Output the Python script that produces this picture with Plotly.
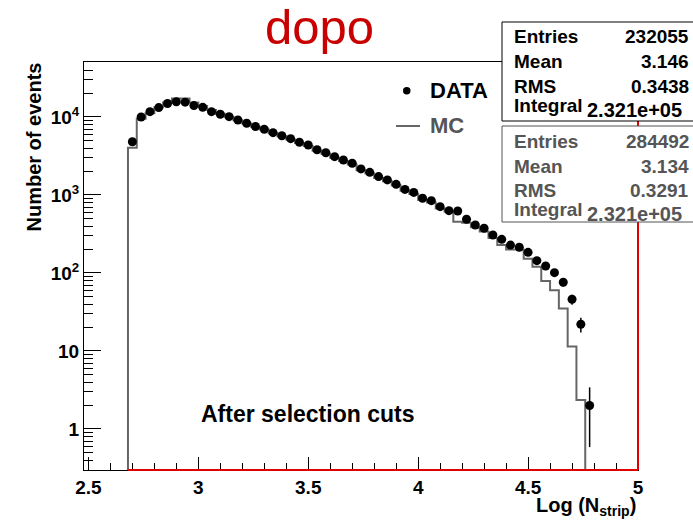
import plotly.graph_objects as go

# ---------------- data ----------------
data_x = [2.70, 2.74, 2.78, 2.82, 2.86, 2.90, 2.94, 2.98, 3.02, 3.06,
          3.10, 3.14, 3.18, 3.22, 3.26, 3.30, 3.34, 3.38, 3.42, 3.46,
          3.50, 3.54, 3.58, 3.62, 3.66, 3.70, 3.74, 3.78, 3.82, 3.86,
          3.90, 3.94, 3.98, 4.02, 4.06, 4.10, 4.14, 4.18, 4.22, 4.26,
          4.30, 4.34, 4.38, 4.42, 4.46, 4.50, 4.54, 4.58, 4.62, 4.66,
          4.70, 4.74, 4.78]
data_y = [4820, 10000, 11700, 13200, 14900, 15700, 15500, 14000, 13300, 11700,
          10830, 10090, 9150, 8300, 7550, 6960, 6290, 5750, 5270, 4740,
          4370, 3800, 3480, 3100, 2810, 2550, 2160, 1950, 1720, 1560,
          1370, 1180, 1080, 907, 846, 708, 629, 624, 488, 412,
          374, 307, 270, 228, 214, 184, 144, 123, 101, 76,
          46, 22, 2]

mc_edges = [2.68, 2.72, 2.76, 2.80, 2.84, 2.88, 2.92, 2.96, 3.00, 3.04,
            3.08, 3.12, 3.16, 3.20, 3.24, 3.28, 3.32, 3.36, 3.40, 3.44,
            3.48, 3.52, 3.56, 3.60, 3.64, 3.68, 3.72, 3.76, 3.80, 3.84,
            3.88, 3.92, 3.96, 4.00, 4.04, 4.08, 4.12, 4.16, 4.20, 4.24,
            4.28, 4.32, 4.36, 4.40, 4.44, 4.48, 4.52, 4.56, 4.60, 4.64,
            4.68, 4.72, 4.76]
mc_y = [4040, 9500, 11150, 13300, 15300, 17300, 17300, 15300, 13800, 12300,
        11000, 10100, 9100, 8250, 7500, 6900, 6200, 5650, 5150, 4650,
        4250, 3700, 3380, 3000, 2720, 2460, 2080, 1880, 1650, 1500,
        1320, 1130, 1030, 860, 800, 670, 615, 455, 440, 385,
        340, 280, 229, 200, 200, 152, 120, 79, 60, 35,
        11.4, 2.35]

x_range = [2.48, 5.0]
x_ticks = [2.5, 3.0, 3.5, 4.0, 4.5, 5.0]
x_ticktext = ["2.5", "3", "3.5", "4", "4.5", "5"]
y_ticks = [1, 10, 100, 1000, 10000]
y_ticktext = ["1", "10", "10<sup>2</sup>", "10<sup>3</sup>", "10<sup>4</sup>"]

stats_labels = ["Entries", "Mean", "RMS", "Integral"]
stats_data = ["232055", "3.146", "0.3438", "2.321e+05"]
stats_mc = ["284492", "3.134", "0.3291", "2.321e+05"]

# ---------------- geometry helpers (pixels -> paper) ----------------
W, H = 693, 521
L, R, T, B = 84, 55, 62, 51
PW, PH = W - L - R, H - T - B


def fx(px):
    return (px - L) / PW


def fy(py):
    return (H - B - py) / PH


def xdata_to_paper(x):
    return (x - x_range[0]) / (x_range[1] - x_range[0])


FONT = "Liberation Sans, Arial, Helvetica, sans-serif"
floor = 1e-3

# MC step histogram
mc_xs = [mc_edges[0]] + mc_edges[:-1] + [mc_edges[-1], mc_edges[-1]]
mc_ys = [floor] + mc_y + [mc_y[-1], floor]

fig = go.Figure()
fig.add_trace(go.Scatter(
    x=mc_xs, y=mc_ys, mode="lines", line=dict(color="#666666", width=2, shape="hv"),
    name="MC", showlegend=False, hoverinfo="skip"))
fig.add_trace(go.Scatter(
    x=data_x, y=data_y, mode="markers", name="DATA", showlegend=False,
    marker=dict(color="black", size=9, symbol="circle"),
    error_y=dict(type="sqrt", color="black", thickness=1.5, width=0)))

minor_y = [m * 10 ** k for k in range(-1, 5) for m in range(2, 10)]

fig.update_layout(
    width=W, height=H,
    margin=dict(l=L, r=R, t=T, b=B, pad=0),
    paper_bgcolor="white", plot_bgcolor="white",
    font=dict(family=FONT, color="black"),
    xaxis=dict(range=x_range, showgrid=False, zeroline=False,
               showline=True, linecolor="black", linewidth=1, mirror=True,
               ticks="inside", ticklen=13, tickwidth=1, tickcolor="black",
               tickvals=x_ticks, ticktext=x_ticktext,
               tickfont=dict(family=FONT, size=19, weight="bold", color="black"),
               minor=dict(ticks="inside", ticklen=7, tickwidth=1, tickcolor="black",
                          dtick=0.1, tick0=2.5, showgrid=False)),
    yaxis=dict(type="log", range=[-0.526, 4.705], showgrid=False, zeroline=False,
               showline=True, linecolor="black", linewidth=1, mirror=True,
               ticks="inside", ticklen=17, tickwidth=1, tickcolor="black",
               tickvals=y_ticks, ticktext=y_ticktext,
               tickfont=dict(family=FONT, size=19, weight="bold", color="black"),
               minor=dict(ticks="inside", ticklen=9, tickwidth=1, tickcolor="black",
                          tickvals=minor_y, showgrid=False)),
)

shapes = []
# red frame lines (bottom from histogram start, right edge)
shapes.append(dict(type="line", xref="paper", yref="paper",
                   x0=xdata_to_paper(mc_edges[0]), x1=1.0, y0=0, y1=0,
                   line=dict(color="#e00000", width=2)))
shapes.append(dict(type="line", xref="paper", yref="paper", x0=1.0, x1=1.0, y0=0, y1=1,
                   line=dict(color="#e00000", width=2)))
# stats boxes
shapes.append(dict(type="rect", xref="paper", yref="paper", x0=fx(502), x1=fx(720),
                   y0=fy(121), y1=fy(22), fillcolor="white", line=dict(color="black", width=1)))
shapes.append(dict(type="rect", xref="paper", yref="paper", x0=fx(502), x1=fx(720),
                   y0=fy(222), y1=fy(126), fillcolor="white", line=dict(color="#555555", width=1)))
# legend MC line and DATA dot
shapes.append(dict(type="line", xref="paper", yref="paper", x0=fx(396), x1=fx(420),
                   y0=fy(126), y1=fy(126), line=dict(color="#666666", width=2)))
shapes.append(dict(type="circle", xref="paper", yref="paper", x0=fx(403), x1=fx(410.5),
                   y0=fy(94.5), y1=fy(87), fillcolor="black", line=dict(color="black", width=0)))

ann = []


def txt(text, px, py, size, color="black", xa="left", bold=True, angle=0):
    ann.append(dict(text=text, x=fx(px), y=fy(py), xref="paper", yref="paper",
                    xanchor=xa, yanchor="middle", showarrow=False, textangle=angle,
                    font=dict(family=FONT, size=size, color=color,
                              weight="bold" if bold else "normal")))


txt("dopo", 319, 27, 49, color="#c80000", xa="center", bold=False)
txt("DATA", 428, 91, 22)
txt("MC", 428, 125, 22, color="#555555")
txt("After selection cuts", 199, 413.5, 23)
txt("Number of events", 33, 147.5, 20, xa="center", angle=-90)
txt("Log (N<sub>strip</sub>)", 638, 507, 20, xa="right")

y1 = [36.7, 61.7, 86.0, 105.5]
y2 = [141.7, 166.2, 190.0, 209.5]
for i, lab in enumerate(stats_labels):
    txt(lab, 511.5, y1[i], 19)
    txt(lab, 511.5, y2[i], 19, color="#555555")
for i in range(3):
    txt(stats_data[i], 691, y1[i], 19, xa="right")
    txt(stats_mc[i], 691, y2[i], 19, xa="right", color="#555555")
txt(stats_data[3], 585, 110, 20)
txt(stats_mc[3], 585, 213.5, 20, color="#555555")

fig.update_layout(shapes=shapes, annotations=ann)
fig.write_html("out.html")
